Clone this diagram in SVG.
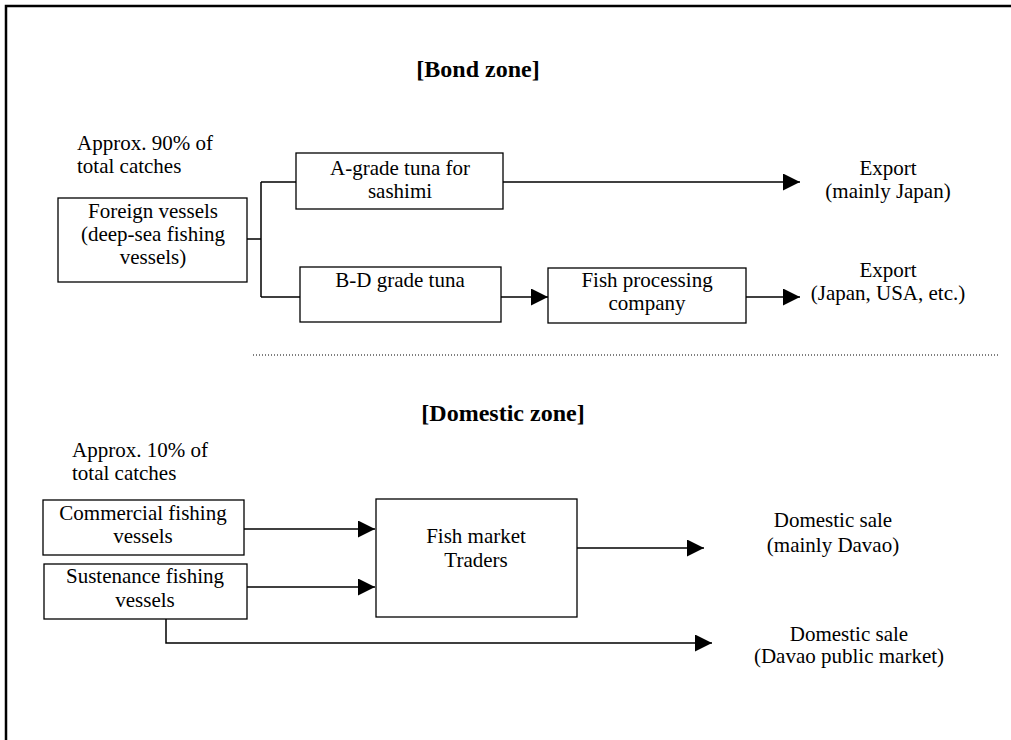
<svg xmlns="http://www.w3.org/2000/svg" width="1011" height="740" viewBox="0 0 1011 740">
<defs>
<style>
text{font-family:"Liberation Serif","Times New Roman",serif;font-size:21px;fill:#000;text-anchor:middle}
.l{text-anchor:start}
.t{font-weight:bold;font-size:24px}
.box{fill:#fff;stroke:#000;stroke-width:1.3}
.c{fill:none;stroke:#000;stroke-width:1.5}
</style>
<marker id="ah" viewBox="0 0 10 10" refX="10" refY="5" markerUnits="userSpaceOnUse" markerWidth="17" markerHeight="17" orient="auto">
<path d="M0,0 L10,5 L0,10 z" fill="#000"/>
</marker>
</defs>
<rect width="1011" height="740" fill="#fff"/>
<path d="M6,740 V6 H1011" fill="none" stroke="#000" stroke-width="2.5"/>
<line x1="253" y1="355" x2="998" y2="355" stroke="#000" stroke-width="1" stroke-dasharray="1,2"/>
<text class="t" x="478" y="77">[Bond zone]</text>
<text class="t" x="503" y="421">[Domestic zone]</text>
<text class="l" x="77" y="150">Approx. 90% of</text>
<text class="l" x="77" y="173">total catches</text>
<text class="l" x="72" y="457">Approx. 10% of</text>
<text class="l" x="72" y="480">total catches</text>
<g id="connectors">
<path class="c" d="M247,239 H261 M261,182 V297 M261,182 H296 M261,297 H300"/>
<path class="c" d="M503,182 H800" marker-end="url(#ah)"/>
<path class="c" d="M501,297 H548" marker-end="url(#ah)"/>
<path class="c" d="M746,297 H800" marker-end="url(#ah)"/>
<path class="c" d="M244,529 H375" marker-end="url(#ah)"/>
<path class="c" d="M246,587 H375" marker-end="url(#ah)"/>
<path class="c" d="M576,548 H704" marker-end="url(#ah)"/>
<path class="c" d="M166,619 V643 H712" marker-end="url(#ah)"/>
</g>
<g id="foreign">
<rect class="box" x="58" y="198" width="189" height="84"/>
<text x="153" y="218">Foreign vessels</text>
<text x="153" y="241">(deep-sea fishing</text>
<text x="153" y="264">vessels)</text>
</g>
<g id="agrade">
<rect class="box" x="296" y="153" width="207" height="56"/>
<text x="400" y="175">A-grade tuna for</text>
<text x="400" y="198">sashimi</text>
</g>
<g id="bdgrade">
<rect class="box" x="300" y="267" width="201" height="55"/>
<text x="400" y="287">B-D grade tuna</text>
</g>
<g id="processing">
<rect class="box" x="548" y="268" width="198" height="55"/>
<text x="647" y="287">Fish processing</text>
<text x="647" y="310">company</text>
</g>
<g id="export1">
<text x="888" y="175">Export</text>
<text x="888" y="198">(mainly Japan)</text>
</g>
<g id="export2">
<text x="888" y="277">Export</text>
<text x="888" y="300">(Japan, USA, etc.)</text>
</g>
<g id="commercial">
<rect class="box" x="43" y="500" width="201" height="55"/>
<text x="143" y="520">Commercial fishing</text>
<text x="143" y="543">vessels</text>
</g>
<g id="sustenance">
<rect class="box" x="44" y="564" width="203" height="55"/>
<text x="145" y="583">Sustenance fishing</text>
<text x="145" y="607">vessels</text>
</g>
<g id="market">
<rect class="box" x="376" y="499" width="201" height="118"/>
<text x="476" y="543">Fish market</text>
<text x="476" y="567">Traders</text>
</g>
<g id="domestic1">
<text x="833" y="527">Domestic sale</text>
<text x="833" y="552">(mainly Davao)</text>
</g>
<g id="domestic2">
<text x="849" y="641">Domestic sale</text>
<text x="849" y="663">(Davao public market)</text>
</g>
</svg>
